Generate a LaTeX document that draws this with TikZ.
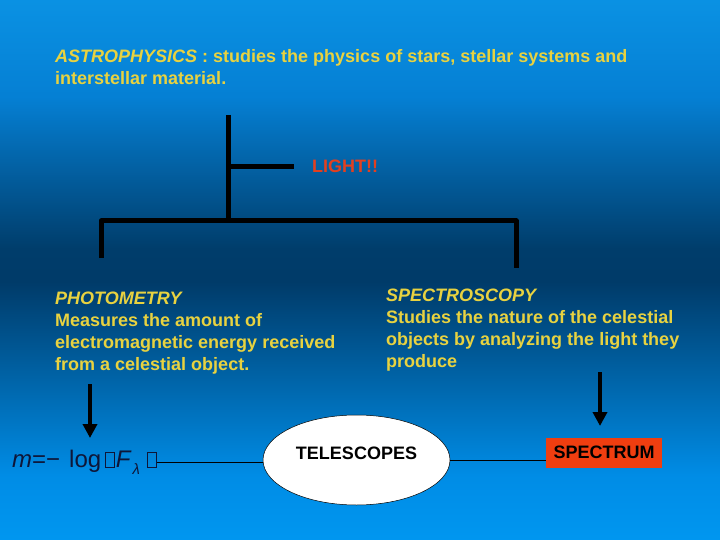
\documentclass[tikz,border=0pt]{standalone}
\usepackage{fontspec}
\setmainfont{Liberation Sans}
\usetikzlibrary{arrows.meta,shapes.geometric}
\definecolor{ylw}{RGB}{232,210,64}
\definecolor{lightred}{RGB}{226,64,32}
\definecolor{specred}{RGB}{240,62,16}
\definecolor{navy}{RGB}{14,22,56}
\pgfdeclareverticalshading{slidebg}{100bp}{
  rgb(0bp)=(0,0.59,0.94);
  rgb(25bp)=(0,0.59,0.94);
  rgb(31bp)=(0,0.55,0.90);
  rgb(49bp)=(0,0.23,0.41);
  rgb(52bp)=(0,0.24,0.42);
  rgb(66bp)=(0.02,0.50,0.83);
  rgb(75bp)=(0.04,0.57,0.89);
  rgb(100bp)=(0.04,0.57,0.89)}
\tikzset{
  txt/.style={inner sep=0pt, anchor=north west, align=left, text=ylw, font=\fontsize{18}{22}\selectfont\bfseries},
  tree/.style={line width=5pt, line join=round, line cap=butt},
  bigarrow/.style={line width=4.5pt, -{Triangle[width=14pt,length=14pt]}},
  link/.style={line width=0.6pt, black}
}
\newcommand{\missbox}{{\setlength\fboxsep{0pt}\setlength\fboxrule{0.8pt}\fbox{\rule{0pt}{14pt}\hspace{8pt}}}}
\begin{document}
\begin{tikzpicture}[x=1pt,y=-1pt]
\shade[shading=slidebg] (0,0) rectangle (720,540);
\path[use as bounding box] (0,0) rectangle (720,540);

\node[txt] (title) at (55,49) {{\itshape ASTROPHYSICS} : studies the physics of stars, stellar systems and\\interstellar material.};

% tree
\coordinate (top) at (228,115);
\coordinate (join) at (228,221);
\coordinate (br) at (228,167);
\coordinate (brend) at (294,167);
\coordinate (lft) at (101,258);
\coordinate (rgt) at (516,268);
\node[inner sep=0pt, anchor=west, text=lightred, font=\fontsize{18}{18}\selectfont\bfseries] (light) at (312,166) {LIGHT!!};
\draw[tree] (top) -- (join);
\draw[tree] (br) -- (brend);
\draw[tree] (lft) -- (lft |- join) -- (rgt |- join) -- (rgt);

\node[txt] (photo) at (55,292) {{\itshape PHOTOMETRY}\\Measures the amount of\\electromagnetic energy received\\from a celestial object.};
\node[txt] (spectro) at (386,289) {{\itshape SPECTROSCOPY}\\Studies the nature of the celestial\\objects by analyzing the light they\\produce};

% arrows
\coordinate (a1s) at (90,384);
\coordinate (a1e) at (90,438);
\coordinate (a2s) at (600,372);
\coordinate (a2e) at (600,426);
\draw[bigarrow] (a1s) -- (a1e);
\draw[bigarrow] (a2s) -- (a2e);

% formula
\node[inner sep=0pt, anchor=west, text=navy, font=\fontsize{24}{24}\selectfont] (formula) at (12,462)
 {\textit{m}=−\hspace{9pt}log\hspace{4pt}\missbox\hspace{1pt}\textit{F}\hspace{1pt}{\fontsize{15}{15}\selectfont\raisebox{-7pt}{\textit{λ}}}\hspace{7pt}\missbox};

\node[ellipse, draw=black, line width=0.5pt, fill=white, minimum width=187pt, minimum height=90pt,
      inner sep=0pt, text height=13pt, text depth=14pt, font=\fontsize{18}{18}\selectfont\bfseries] (tele) at (356.5,460) {TELESCOPES};

\node[fill=specred, minimum width=116pt, minimum height=30pt, inner sep=0pt,
      font=\fontsize{18}{18}\selectfont\bfseries] (spec) at (604,452.5) {SPECTRUM};

\draw[link] (formula.east) -- (formula.east -| tele.west);
\draw[link] (tele.east) -- (tele.east -| spec.west);
\end{tikzpicture}
\end{document}
